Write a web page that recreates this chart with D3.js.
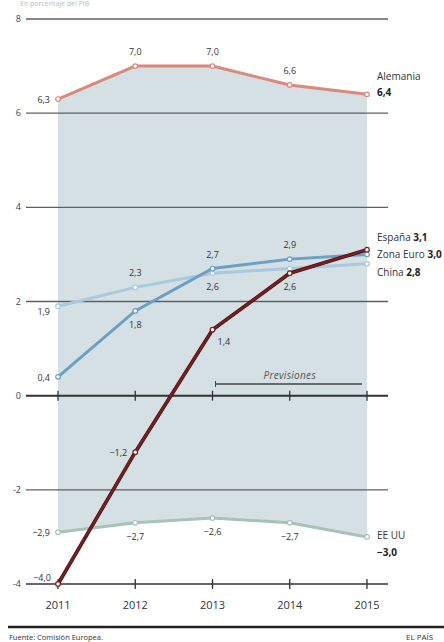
<!DOCTYPE html>
<html><head><meta charset="utf-8">
<script src="https://cdn.jsdelivr.net/npm/d3@7"></script>
<style>
html,body{margin:0;padding:0;background:#fff;}
svg{display:block;font-family:"Open Sans","Noto Sans",sans-serif;}
</style></head>
<body>
<svg id="c" width="444" height="642"></svg>
<script>
const years = [2011, 2012, 2013, 2014, 2015];
const yTicks = [8, 6, 4, 2, 0, -2, -4];
const alemania = [6.3, 7.0, 7.0, 6.6, 6.4];
const espana = [-4.0, -1.2, 1.4, 2.6, 3.1];
const zonaEuro = [0.4, 1.8, 2.7, 2.9, 3.0];
const china = [1.9, 2.3, 2.6, 2.7, 2.8];
const eeuu = [-2.9, -2.7, -2.6, -2.7, -3.0];
const seriesNames = ["Alemania", "España", "Zona Euro", "China", "EE UU"];
// which point labels are shown (null = none) and where
const labelPlace = {
  "Alemania": ["left", "above", "above", "above", null],
  "España": ["leftup", "left", "rightdown", "below", null],
  "Zona Euro": ["left", "below", "above", "above", null],
  "China": ["leftdown", "above", "below", null, null],
  "EE UU": ["left", "below", "below", "below", null]
};
const colors = {
  "Alemania": "#d98a7b",
  "España": "#7c1d1f",
  "Zona Euro": "#6aa0c3",
  "China": "#a9c9de",
  "EE UU": "#a8c2b8"
};
const values = {"Alemania": alemania, "España": espana, "Zona Euro": zonaEuro, "China": china, "EE UU": eeuu};

const svg = d3.select("#c");
const x = d3.scalePoint().domain(years).range([58, 367]);
const y = d3.scaleLinear().domain([-4, 8]).range([584, 19]);
const fmt = v => (v < 0 ? "\u2212" : "") + d3.format(".1f")(Math.abs(v)).replace(".", ",");

// faint subtitle at the very top
svg.append("text").attr("x", 20).attr("y", 6).attr("font-size", 7).attr("fill", "#bbb").text("En porcentaje del PIB");

// shaded area between Alemania and EE UU
const area = d3.area().x((d, i) => x(years[i])).y0((d, i) => y(eeuu[i])).y1(d => y(d));
svg.append("path").datum(alemania).attr("d", area).attr("fill", "#d4e0e3");

// gridlines
const gx0 = 26, gx1 = 388;
yTicks.forEach(t => {
  const axisLine = (t === 0 || t === -4);
  svg.append("line").attr("x1", gx0).attr("x2", gx1).attr("y1", y(t)).attr("y2", y(t))
    .attr("stroke", axisLine ? "#333" : "#5f5f5f").attr("stroke-width", t === 0 ? 2 : 1.4);
  svg.append("text").attr("x", 21).attr("y", y(t) + 3).attr("text-anchor", "end")
    .attr("font-size", 9).attr("fill", "#444").text(t);
});
// ticks on zero and bottom axis
[0, -4].forEach(t => {
  svg.selectAll(null).data(years).enter().append("line")
    .attr("x1", d => x(d)).attr("x2", d => x(d))
    .attr("y1", y(t) - 5).attr("y2", y(t) + 5)
    .attr("stroke", "#333").attr("stroke-width", 1.3);
});
// year labels
svg.selectAll(null).data(years).enter().append("text")
  .attr("x", d => x(d)).attr("y", y(-4) + 25).attr("text-anchor", "middle")
  .attr("font-size", 11).attr("fill", "#333").text(d => d);

// Previsiones bracket
svg.append("line").attr("x1", x(2013) + 3).attr("x2", x(2015) - 5).attr("y1", 384).attr("y2", 384)
  .attr("stroke", "#444").attr("stroke-width", 1.3);
svg.append("line").attr("x1", x(2013) + 3).attr("x2", x(2013) + 3).attr("y1", 381).attr("y2", 387)
  .attr("stroke", "#444").attr("stroke-width", 1);
svg.append("text").attr("x", (x(2013) + x(2015)) / 2).attr("y", 379).attr("text-anchor", "middle")
  .attr("font-size", 10).attr("font-style", "italic").attr("fill", "#555").attr("letter-spacing", 0.3).text("Previsiones");

const line = d3.line().x((d, i) => x(years[i])).y(d => y(d));
const order = ["EE UU", "Alemania", "China", "Zona Euro", "España"];
order.forEach(name => {
  const vals = values[name];
  if (name === "España") {
    svg.append("path").datum(vals).attr("d", line).attr("fill", "none")
      .attr("stroke", "#3a0c0c").attr("stroke-width", 3.6);
  }
  svg.append("path").datum(vals).attr("d", line).attr("fill", "none")
    .attr("stroke", colors[name]).attr("stroke-width", name === "España" ? 2.4 : 3);
  svg.selectAll(null).data(vals).enter().append("circle")
    .attr("cx", (d, i) => x(years[i])).attr("cy", d => y(d)).attr("r", 2.3)
    .attr("fill", "#fff").attr("stroke", colors[name]).attr("stroke-width", 1.2);
});

// point labels
const off = {
  above: [0, -11, "middle"], below: [0, 17, "middle"], left: [-8, 4, "end"],
  leftup: [-7, -3, "end"], leftdown: [-8, 9, "end"], rightdown: [5, 15, "start"]
};
seriesNames.forEach(name => {
  values[name].forEach((v, i) => {
    const p = labelPlace[name][i];
    if (!p) return;
    const o = off[p];
    svg.append("text").attr("x", x(years[i]) + o[0]).attr("y", y(v) + o[1])
      .attr("text-anchor", o[2]).attr("font-size", 9).attr("fill", "#333").text(fmt(v));
  });
});

// series end labels
const lx = 377;
const endLab = [
  {name: "Alemania", y1: 80, y2: 96, split: true},
  {name: "España", y1: 241, split: false},
  {name: "Zona Euro", y1: 258, split: false},
  {name: "China", y1: 276, split: false},
  {name: "EE UU", y1: 539, y2: 556, split: true}
];
endLab.forEach(e => {
  const v = values[e.name][4];
  if (e.split) {
    svg.append("text").attr("x", lx).attr("y", e.y1).attr("font-size", 10).attr("fill", "#333").text(e.name);
    svg.append("text").attr("x", lx).attr("y", e.y2).attr("font-size", 10).attr("font-weight", "bold").attr("fill", "#222").text(fmt(v));
  } else {
    const t = svg.append("text").attr("x", lx).attr("y", e.y1).attr("font-size", 10).attr("fill", "#333");
    t.append("tspan").text(e.name + " ");
    t.append("tspan").attr("font-weight", "bold").attr("fill", "#222").text(fmt(v));
  }
});

// footer
svg.append("line").attr("x1", 8).attr("x2", 444).attr("y1", 627).attr("y2", 627).attr("stroke", "#222").attr("stroke-width", 2.5);
svg.append("text").attr("x", 9).attr("y", 640).attr("font-size", 7.5).attr("fill", "#333").text("Fuente: Comisión Europea.");
svg.append("text").attr("x", 406).attr("y", 640).attr("font-size", 8).attr("fill", "#333").text("EL PAÍS");
</script>
</body></html>
